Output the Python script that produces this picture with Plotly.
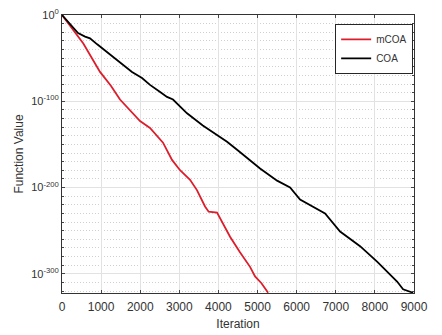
import plotly.graph_objects as go

# Data
mcoa_iter = [0, 270, 545, 972, 1250, 1483, 1995, 2250, 2583, 2813, 3018, 3274, 3450,
             3657, 3750, 3964, 4050, 4297, 4550, 4808, 4936, 5100, 5270]
mcoa_value = [1e0, 1e-17, 1e-33, 1e-66, 1e-82, 1e-98, 1e-123, 1e-131, 1e-148, 1e-168,
              1e-180, 1e-191, 1e-203, 1e-222, 1e-228, 1e-229, 1e-236, 1e-257, 1e-275,
              1e-292, 1e-303, 1e-311, 1e-322]

coa_iter = [0, 200, 410, 590, 716, 900, 1176, 1500, 1790, 2046, 2250, 2500, 2685, 2838,
            3197, 3600, 3964, 4220, 4500, 4808, 5064, 5500, 5831, 6087, 6400, 6726,
            7110, 7400, 7621, 8056, 8300, 8568, 8721, 8850, 8977]
coa_value = [1e0, 1e-10, 1e-21, 1e-25, 1e-27, 1e-34, 1e-44, 1e-56, 1e-66, 1e-73, 1e-81,
             1e-89, 1e-95, 1e-98, 1e-114, 1e-128, 1e-139, 1e-147, 1e-157, 1e-168,
             1e-178, 1e-192, 1e-200, 1e-214, 1e-222, 1e-230, 1e-251, 1e-261, 1e-268,
             1e-286, 1e-297, 1e-309, 1e-318, 1e-320, 1e-322]

x_ticks = [0, 1000, 2000, 3000, 4000, 5000, 6000, 7000, 8000, 9000]
y_tickvals = [1e0, 1e-100, 1e-200, 1e-300]
y_ticktext = ["10<sup>0</sup>", "10<sup>-100</sup>", "10<sup>-200</sup>", "10<sup>-300</sup>"]
y_minorvals = [10.0 ** (-k) for k in range(10, 330, 10) if k % 100 != 0]

axis_color = "#333333"
font = dict(family="Liberation Sans, Arial, sans-serif", size=12, color=axis_color)

fig = go.Figure()
fig.add_trace(go.Scatter(x=mcoa_iter, y=mcoa_value, mode="lines", name="mCOA",
                         line=dict(color="#dc1e2c", width=1.8)))
fig.add_trace(go.Scatter(x=coa_iter, y=coa_value, mode="lines", name="COA",
                         line=dict(color="#000000", width=1.8)))

fig.update_layout(
    width=442, height=335,
    margin=dict(l=62, r=28, t=15, b=42),
    paper_bgcolor="white", plot_bgcolor="white",
    font=font,
    showlegend=True,
    legend=dict(x=0.776, y=0.968, xanchor="left", yanchor="top",
                bgcolor="white", bordercolor="#262626", borderwidth=1,
                font=dict(size=10, color=axis_color), itemwidth=30,
                tracegroupgap=0, entrywidth=34),
)
fig.update_xaxes(
    range=[0, 9000], tickvals=x_ticks, ticks="inside", ticklen=3,
    ticklabelstandoff=3,
    showline=True, linecolor=axis_color, linewidth=1, mirror="allticks",
    showgrid=True, gridcolor="#e2e2e2", gridwidth=1, zeroline=False,
    automargin=False,
    title=dict(text="Iteration", standoff=6, font=dict(size=12, color=axis_color)),
    tickfont=dict(size=12, color=axis_color),
)
fig.update_yaxes(
    type="log", range=[-322.3, 0], tickmode="array", tickvals=y_tickvals,
    ticktext=y_ticktext, ticks="inside", ticklen=3,
    showline=True, linecolor=axis_color, linewidth=1, mirror="allticks",
    showgrid=True, gridcolor="#e2e2e2", gridwidth=1, zeroline=False,
    automargin=False,
    minor=dict(tickmode="array", tickvals=y_minorvals, ticks="inside", ticklen=2,
               showgrid=True, gridcolor="#d0d0d0", griddash="1px,2px", gridwidth=1),
    title=dict(text="Function Value", standoff=4, font=dict(size=12, color=axis_color)),
    tickfont=dict(size=11, color=axis_color),
)

fig.write_html("out.html", config={"displayModeBar": False},
               post_script="document.body.style.margin='0';")
